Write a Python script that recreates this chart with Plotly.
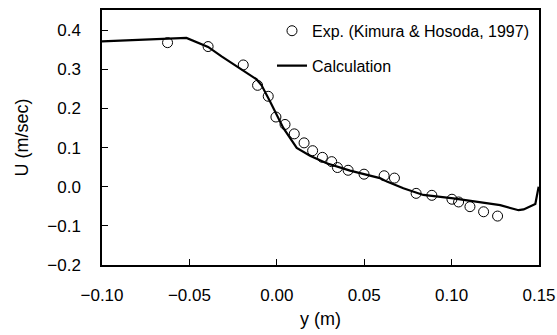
import plotly.graph_objects as go

# Experimental data (Kimura & Hosoda, 1997)
exp_y = [-0.0625, -0.0393, -0.0192, -0.0110, -0.0049, -0.0005, 0.0047, 0.0100,
         0.0156, 0.0205, 0.0261, 0.0314, 0.0347, 0.0408, 0.0499, 0.0614,
         0.0673, 0.0797, 0.0887, 0.1002, 0.1040, 0.1105, 0.1183, 0.1263]
exp_u = [0.368, 0.358, 0.311, 0.259, 0.231, 0.178, 0.159, 0.135,
         0.112, 0.092, 0.075, 0.064, 0.049, 0.042, 0.032, 0.028,
         0.022, -0.017, -0.022, -0.032, -0.039, -0.051, -0.064, -0.075]

# Calculation
calc_y = [-0.100, -0.0517, -0.0393, -0.0316, -0.0115, -0.0087, -0.0040, 0.0018,
          0.0037, 0.0114, 0.0190, 0.0285, 0.0419, 0.0590, 0.0630, 0.0724,
          0.0838, 0.1010, 0.1278, 0.1383, 0.1412, 0.1479, 0.1498]
calc_u = [0.371, 0.380, 0.357, 0.333, 0.274, 0.259, 0.219, 0.167,
          0.150, 0.099, 0.079, 0.060, 0.041, 0.022, 0.013, -0.004,
          -0.021, -0.030, -0.047, -0.060, -0.058, -0.044, 0.000]

x_ticks = [-0.10, -0.05, 0.00, 0.05, 0.10, 0.15]
x_labels = ["\u22120.10", "\u22120.05", "0.00", "0.05", "0.10", "0.15"]
y_ticks = [-0.2, -0.1, 0.0, 0.1, 0.2, 0.3, 0.4]
y_labels = ["\u22120.2", "\u22120.1", "0.0", "0.1", "0.2", "0.3", "0.4"]

FONT = "Liberation Sans, Arial, sans-serif"
X_RANGE = [-0.1, 0.15]
Y_RANGE = [-0.2, 0.4514]

fig = go.Figure()
fig.add_trace(go.Scatter(
    x=exp_y, y=exp_u, mode="markers", name="Exp. (Kimura &amp; Hosoda, 1997)",
    marker=dict(symbol="circle-open", size=10, color="black", line=dict(width=1)),
    legendgroup="a",
))
fig.add_trace(go.Scatter(
    x=calc_y, y=calc_u, mode="lines", name="Calculation",
    line=dict(color="black", width=2.2),
    legendgroup="b",
))

fig.update_layout(
    width=557, height=335,
    margin=dict(l=102, r=18, t=10, b=70, autoexpand=False),
    paper_bgcolor="white", plot_bgcolor="white",
    font=dict(family=FONT, size=17, color="black"),
    showlegend=True,
    legend=dict(x=0.389, y=0.985, xanchor="left", yanchor="top",
                bgcolor="rgba(0,0,0,0)", font=dict(size=16, family=FONT),
                traceorder="grouped", tracegroupgap=11),
    xaxis=dict(range=X_RANGE, tickvals=x_ticks, ticktext=x_labels,
               ticks="inside", ticklen=6, tickcolor="black", tickwidth=1,
               showline=True, linecolor="black", linewidth=1.5, mirror=True,
               showgrid=False, zeroline=False, ticklabelstandoff=14,
               automargin=False,
               title=dict(text="y (m)", standoff=8, font=dict(size=18))),
    yaxis=dict(range=Y_RANGE, tickvals=y_ticks, ticktext=y_labels,
               ticks="inside", ticklen=6, tickcolor="black", tickwidth=1,
               showline=True, linecolor="black", linewidth=1.5, mirror=True,
               showgrid=False, zeroline=False, ticklabelstandoff=16,
               automargin=False,
               title=dict(text="U (m/sec)", standoff=14, font=dict(size=18))),
)

fig.write_html("out.html",
               config={"displayModeBar": False},
               post_script="document.body.style.margin='0';document.body.style.padding='0';")
